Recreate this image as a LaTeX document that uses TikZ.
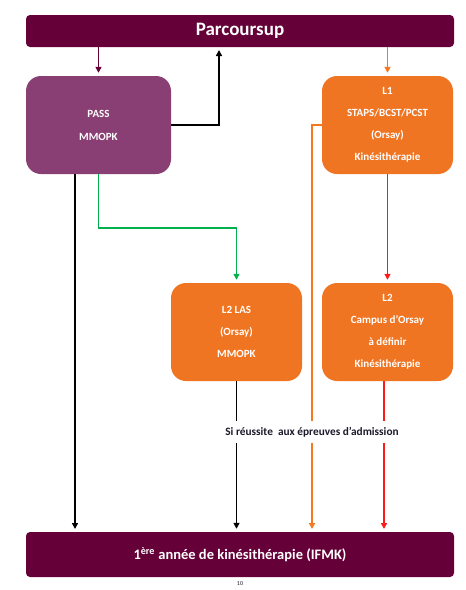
\documentclass[tikz,border=0pt]{standalone}
\usepackage{fontspec}
\setmainfont{Carlito}
\usetikzlibrary{arrows.meta}
\definecolor{darkplum}{HTML}{650038}
\definecolor{plum}{HTML}{8A3F74}
\definecolor{orangebox}{HTML}{F07522}
\definecolor{orangeline}{HTML}{F7771F}
\definecolor{redline}{HTML}{FF1A1A}
\definecolor{greenline}{HTML}{00B04C}
\definecolor{labeltext}{HTML}{1A1A2A}
\tikzset{
  bar/.style={fill=darkplum, rounded corners=4pt, text=white, font=\bfseries, inner sep=0pt},
  box/.style={rounded corners=15pt, text=white, font=\bfseries\fontsize{11}{22}\selectfont, align=center, inner sep=0pt, minimum height=98pt},
  conn/.style={line width=1.4pt, -{Triangle[length=6pt,width=6pt]}, shorten >=3pt},
}
\begin{document}
\begin{tikzpicture}[x=1pt,y=-1pt]
\useasboundingbox (0,0) rectangle (466,590);
\node[bar, minimum width=428pt, minimum height=32pt, font=\bfseries\fontsize{19}{22}\selectfont] (top) at (240,31) {Parcoursup};
\node[box, fill=plum, minimum width=145pt] (pass) at (98.5,125) {PASS\\[1pt]MMOPK};
\node[box, fill=orangebox, minimum width=131pt] (l1) at (387.5,125) {L1\\STAPS/BCST/PCST\\(Orsay)\\Kinésithérapie};
\node[box, fill=orangebox, minimum width=131pt] (las) at (236.5,332) {L2 LAS\\(Orsay)\\MMOPK};
\node[box, fill=orangebox, minimum width=131pt] (l2) at (387.5,332) {L2\\Campus d’Orsay\\à définir\\Kinésithérapie};
\node[bar, minimum width=428pt, minimum height=45pt, font=\bfseries\fontsize{14.5}{17}\selectfont] (bottom) at (240,554.5) {1\textsuperscript{ère} année de kinésithérapie (IFMK)};
\coordinate (up) at (219,47);
\coordinate (oc) at (312,532);
\coordinate (b1) at (75,532);
\coordinate (g) at (236.5,228);
\coordinate (ps) at (75,174);
\coordinate (rb) at (384,532);
\coordinate (rs) at (384,381);
\draw[conn, darkplum] (top.south -| pass) -- (pass.north);
\draw[conn, black] (pass.east) -| (up);
\draw[conn, orangeline] (top.south -| l1) -- (l1.north);
\draw[conn, orangeline] (l1.west) -| (oc);
\draw[conn, redline] (l1.south) -- (l2.north);
\draw[conn, black] (ps) -- (b1);
\draw[conn, greenline] (pass.south) |- (g) -- (las.north);
\draw[conn, black] (las.south) -- (las.south |- bottom.north);
\draw[conn, redline] (rs) -- (rb);
\node[fill=white, text=labeltext, font=\bfseries\fontsize{11.3}{13}\selectfont, inner xsep=1pt, inner ysep=6pt] (lbl) at (312,432) {Si réussite\ \ aux épreuves d’admission};
\node[font=\fontsize{6}{7}\selectfont, text=labeltext] (pg) at (240,584) {10};
\end{tikzpicture}
\end{document}
